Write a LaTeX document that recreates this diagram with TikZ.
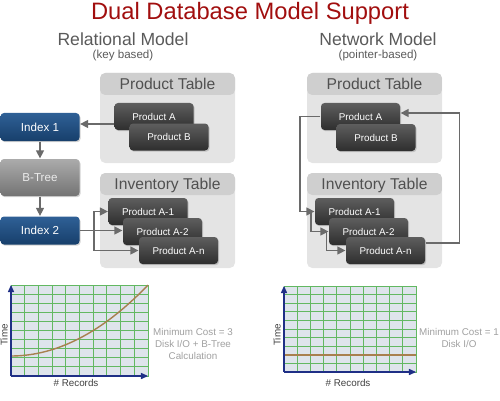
\documentclass[tikz,border=0pt]{standalone}
\usepackage{fontspec}
\setmainfont{Liberation Sans}
\usetikzlibrary{arrows.meta,shadows}
\definecolor{titlered}{HTML}{A10E0E}
\definecolor{subgray}{HTML}{5A5A5A}
\definecolor{panelgray}{HTML}{E4E4E4}
\definecolor{headgray}{HTML}{CFCFCF}
\definecolor{headtext}{HTML}{505050}
\definecolor{recTop}{HTML}{5E5E5E}
\definecolor{recBot}{HTML}{2E2E2E}
\definecolor{keyTop}{HTML}{2F6096}
\definecolor{keyBot}{HTML}{173F6B}
\definecolor{treeTop}{HTML}{ABABAB}
\definecolor{treeBot}{HTML}{747474}
\definecolor{linkgray}{HTML}{6A6A6A}
\definecolor{plotbg}{HTML}{DEE4EC}
\definecolor{gridgreen}{HTML}{62B862}
\definecolor{axisblue}{HTML}{1F2F86}
\definecolor{curvebrown}{HTML}{A8804F}
\definecolor{costgray}{HTML}{A0A0A0}
\definecolor{labgray}{HTML}{404040}
\begin{document}
\begin{tikzpicture}[>={Triangle[length=4.5pt,width=4.5pt]}, line width=0.7pt]
  \tikzset{ttl/.style={text=titlered, font=\fontsize{13.5}{16}\selectfont},
    sub/.style={text=subgray, font=\fontsize{10}{12}\selectfont},
    subsm/.style={text=subgray, font=\fontsize{6.6}{8}\selectfont},
    panel/.style={fill=panelgray, rounded corners=3pt, minimum width=2.7cm, minimum height=#1, inner sep=0,
      path picture={\fill[headgray] ([yshift=0.1cm]path picture bounding box.north west) rectangle ([yshift=-0.44cm]path picture bounding box.north east);}},
    head/.style={text=headtext, anchor=base, inner sep=0, font=\fontsize{8.9}{10}\selectfont},
    rec/.style={top color=recTop, bottom color=recBot, draw=none, text=white, rounded corners=2pt, minimum width=1.58cm, minimum height=0.54cm, inner sep=0,
      font=\fontsize{5.6}{6.5}\selectfont, drop shadow={opacity=0.35, shadow xshift=0.6pt, shadow yshift=-0.7pt}},
    keybox/.style={rec, top color=keyTop, bottom color=keyBot, minimum height=0.56cm, font=\fontsize{6.6}{8}\selectfont},
    treebox/.style={rec, top color=treeTop, bottom color=treeBot, minimum height=0.74cm, text=white!92!black, font=\fontsize{6.6}{8}\selectfont},
    link/.style={draw=linkgray, ->},
    gridline/.style={draw=gridgreen, line width=0.55pt},
    axis/.style={draw=axisblue, line width=0.6pt, -{Triangle[length=4pt,width=3.5pt]}},
    curve/.style={draw=curvebrown, line width=0.8pt},
    axlab/.style={text=labgray, font=\fontsize{5.6}{6.5}\selectfont},
    cost/.style={text=costgray, align=center, font=\fontsize{5.6}{6.8}\selectfont}}
  \useasboundingbox (0,0) rectangle (10,-8);

  % headings
  \node[ttl] (title) at (5,-0.26) {Dual Database Model Support};
  \node[sub] (relM) at (2.46,-0.78) {Relational Model};
  \node[subsm] (relK) at (2.46,-1.12) {(key based)};
  \node[sub] (netM) at (7.56,-0.78) {Network Model};
  \node[subsm] (netK) at (7.56,-1.12) {(pointer-based)};

  % relational model
  \node[panel=1.8cm] (ptL) at (3.35,-2.36) {};
  \node[head] (ptLh) at (3.35,-1.8) {Product Table};
  \node[panel=1.9cm] (itL) at (3.35,-4.41) {};
  \node[head] (itLh) at (3.35,-3.78) {Inventory Table};
  \node[rec] (pAL) at (3.08,-2.33) {Product A};
  \node[rec] (pBL) at (3.38,-2.74) {Product B};
  \node[rec] (iA1L) at (2.96,-4.23) {Product A-1};
  \node[rec] (iA2L) at (3.25,-4.63) {Product A-2};
  \node[rec] (iAnL) at (3.57,-5.01) {Product A-n};
  \node[keybox] (idx1) at (0.8,-2.54) {Index 1};
  \node[treebox] (btree) at (0.8,-3.55) {B-Tree};
  \node[keybox] (idx2) at (0.8,-4.61) {Index 2};
  \coordinate (fork) at (1.88,-4.61);
  \draw[link] ([yshift=-0.15cm]pAL.west) -- ([yshift=-0.15cm]pAL.west -| idx1.east);
  \draw[link] (idx1) -- (btree);
  \draw[link] (btree) -- (idx2);
  \draw[link] (idx2.east) -- (idx2.east -| iA2L.west);
  \draw[link] (fork) |- (iA1L.west);
  \draw[link] (fork) |- (iAnL.west);

  % network model
  \node[panel=1.8cm] (ptR) at (7.49,-2.36) {};
  \node[head] (ptRh) at (7.49,-1.8) {Product Table};
  \node[panel=1.9cm] (itR) at (7.49,-4.41) {};
  \node[head] (itRh) at (7.49,-3.78) {Inventory Table};
  \node[rec] (pAR) at (7.21,-2.33) {Product A};
  \node[rec] (pBR) at (7.52,-2.75) {Product B};
  \node[rec] (iA1R) at (7.09,-4.23) {Product A-1};
  \node[rec] (iA2R) at (7.37,-4.63) {Product A-2};
  \node[rec] (iAnR) at (7.71,-5.01) {Product A-n};
  \draw[link] (pAR.west) -- ++(-0.41,0) |- (iA1R.west);
  \draw[link] ([xshift=-0.07cm]iA1R.west) |- (iA2R.west);
  \draw[link] ([xshift=-0.04cm]iA2R.west) |- (iAnR.west);
  \draw[link] ([yshift=0.15cm]iAnR.east) -- ++(0.68,0) |- ([yshift=0.07cm]pAR.east);

  % cost charts
  \fill[plotbg] (0.22,-7.52) rectangle (2.96,-5.7);
  \draw[gridline, shift={(0.22,-7.52)}] (0,0) grid[xstep=0.274,ystep=0.182] (2.75,1.83);
  \draw[curve] (0.22,-7.12) .. controls (1.13,-7.12) and (2.05,-6.65) .. (2.96,-5.7);
  \draw[axis] (0.22,-7.52) -- (0.22,-5.7);
  \draw[axis] (0.22,-7.52) -- (2.96,-7.52);
  \node[axlab, rotate=90] (timeL) at (0.08,-6.7) {Time};
  \node[axlab] (recL) at (1.52,-7.66) {\# Records};
  \node[cost] (costL) at (3.86,-6.88) {Minimum Cost = 3\\Disk I/O + B-Tree\\Calculation};

  \fill[plotbg] (5.68,-7.44) rectangle (8.32,-5.72);
  \draw[gridline, shift={(5.68,-7.44)}] (0,0) grid[xstep=0.264,ystep=0.172] (2.65,1.73);
  \draw[curve] (5.68,-7.1) -- (8.32,-7.1);
  \draw[axis] (5.68,-7.44) -- (5.68,-5.72);
  \draw[axis] (5.68,-7.44) -- (8.32,-7.44);
  \node[axlab, rotate=90] (timeR) at (5.54,-6.7) {Time};
  \node[axlab] (recR) at (6.96,-7.66) {\# Records};
  \node[cost] (costR) at (9.18,-6.76) {Minimum Cost = 1\\Disk I/O};
\end{tikzpicture}
\end{document}
